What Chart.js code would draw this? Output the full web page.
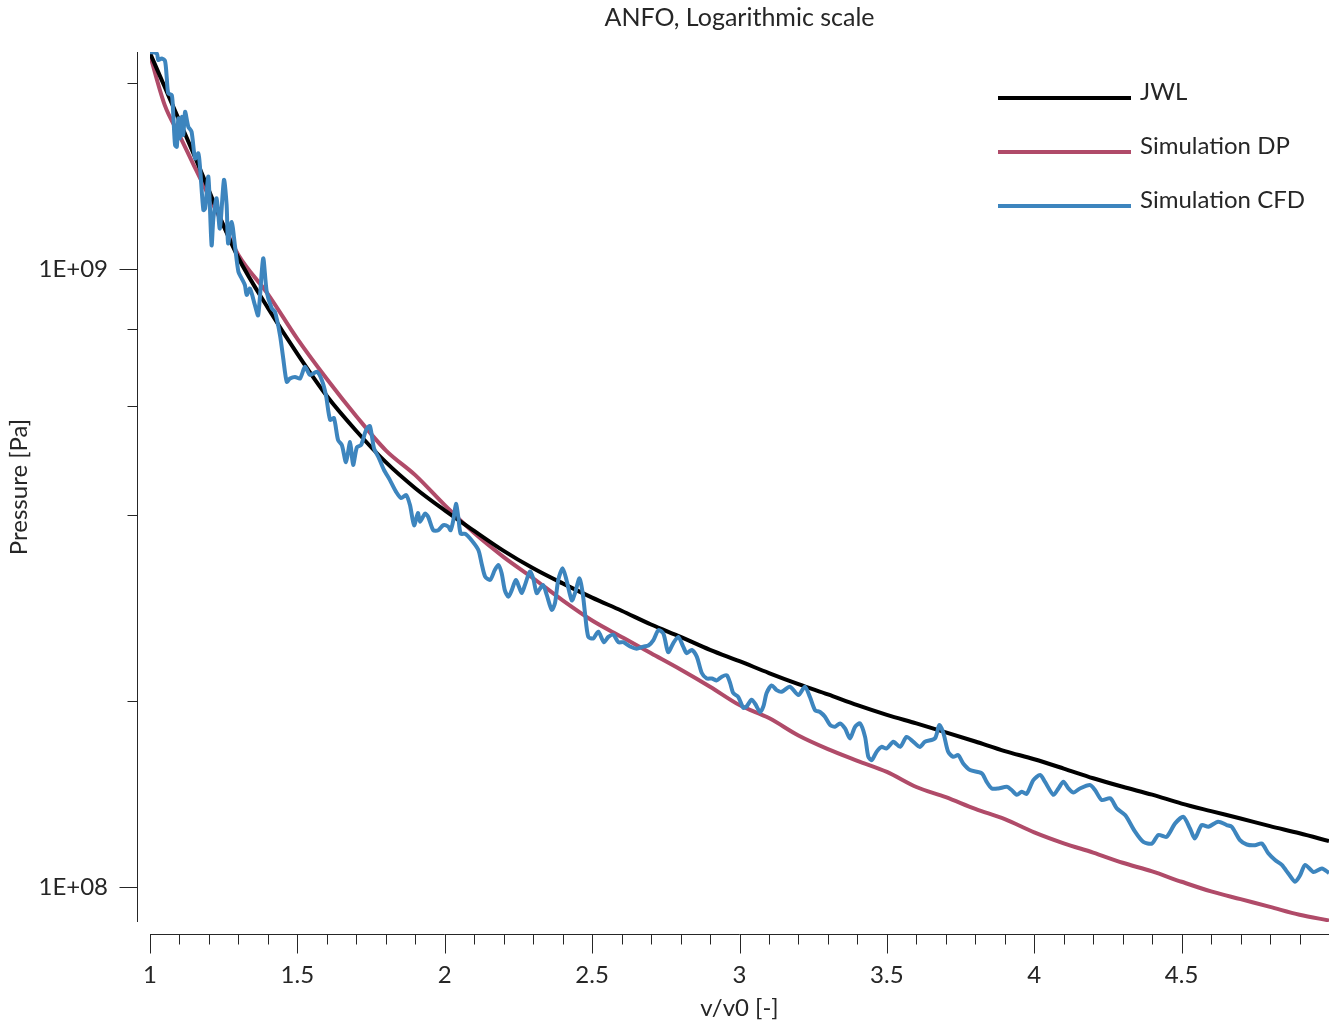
<!DOCTYPE html>
<html>
<head>
<meta charset="utf-8">
<title>ANFO, Logarithmic scale</title>
<script src="https://cdn.jsdelivr.net/npm/chart.js@4.4.1/dist/chart.umd.min.js"></script>
<style>
    html, body { margin: 0; padding: 0; background: #ffffff; }
    #wrap { width: 1339px; height: 1024px; }
</style>
</head>
<body>
<div id="wrap"><canvas id="myChart" width="1339" height="1024"></canvas></div>
<script>
// Relative volume v/v0 for the JWL and DP curves.
const gridV = [1.00, 1.05, 1.10, 1.15, 1.20, 1.25, 1.30, 1.40, 1.50, 1.60, 1.70, 1.80, 1.90, 2.00, 2.10, 2.20, 2.30, 2.40, 2.50,
    2.60, 2.70, 2.80, 2.90, 3.00, 3.10, 3.20, 3.30, 3.40, 3.50, 3.60, 3.70, 3.80, 3.90, 4.00, 4.10, 4.20, 4.30, 4.40, 4.50,
    4.60, 4.70, 4.80, 4.90, 5.00];

// Pressures in MPa.
const jwlMPa = [2236, 1970, 1736, 1529, 1340, 1174, 1042, 865, 729, 623, 547, 487, 442, 407, 377, 350, 328, 310, 294,
    280, 266, 254, 242, 232, 222, 213, 205, 197, 190, 184, 178, 172, 166, 161, 155.5, 150, 145.3, 141.1, 136.5,
    132.7, 129.1, 125.5, 122.2, 118.7];

const dpMPa = [2220, 1842, 1646, 1468, 1311, 1175, 1054, 911, 771, 664, 578, 509, 464, 415, 374, 342, 316, 291, 270,
    254, 239, 225, 211, 197, 187.7, 175.9, 167.2, 160.1, 153.6, 145.2, 139.8, 133.8, 128.8, 122.6, 117.7, 113.7, 109.5,
    106.0, 102.0, 98.4, 95.6, 92.9, 90.2, 88.3];

// CFD simulation, own sampling.
const cfdV = [1.000, 1.023, 1.028, 1.040, 1.051, 1.057, 1.062, 1.074, 1.079, 1.085, 1.091, 1.096, 1.102, 1.108, 1.113,
    1.119, 1.130, 1.141, 1.153, 1.164, 1.170, 1.181, 1.187, 1.198, 1.209, 1.215, 1.226, 1.237, 1.251, 1.260, 1.265,
    1.277, 1.288, 1.300, 1.311, 1.322, 1.328, 1.339, 1.356, 1.367, 1.384, 1.396, 1.413, 1.424, 1.441, 1.452, 1.464,
    1.475, 1.492, 1.509, 1.526, 1.543, 1.566, 1.583, 1.597, 1.611, 1.624, 1.638, 1.651, 1.665, 1.679, 1.689, 1.702,
    1.716, 1.733, 1.746, 1.760, 1.777, 1.794, 1.814, 1.835, 1.852, 1.869, 1.882, 1.896, 1.909, 1.916, 1.933, 1.944,
    1.961, 1.978, 1.995, 2.012, 2.020, 2.029, 2.038, 2.046, 2.054, 2.069, 2.091, 2.114, 2.125, 2.137, 2.154, 2.170,
    2.182, 2.193, 2.204, 2.216, 2.227, 2.241, 2.252, 2.261, 2.272, 2.289, 2.300, 2.312, 2.323, 2.334, 2.346, 2.363,
    2.374, 2.385, 2.400, 2.413, 2.431, 2.442, 2.457, 2.468, 2.476, 2.487, 2.504, 2.521, 2.540, 2.555, 2.572, 2.589,
    2.606, 2.629, 2.651, 2.674, 2.691, 2.708, 2.725, 2.742, 2.758, 2.775, 2.792, 2.809, 2.821, 2.838, 2.855, 2.872,
    2.889, 2.906, 2.923, 2.940, 2.957, 2.968, 2.979, 2.996, 3.013, 3.024, 3.041, 3.053, 3.070, 3.081, 3.092, 3.109,
    3.126, 3.143, 3.171, 3.200, 3.222, 3.239, 3.256, 3.273, 3.290, 3.307, 3.324, 3.341, 3.358, 3.375, 3.392, 3.409,
    3.426, 3.437, 3.449, 3.465, 3.482, 3.499, 3.522, 3.545, 3.567, 3.590, 3.612, 3.629, 3.663, 3.678, 3.692, 3.708,
    3.725, 3.742, 3.759, 3.782, 3.822, 3.838, 3.856, 3.878, 3.907, 3.923, 3.941, 3.958, 3.974, 3.997, 4.020, 4.036,
    4.065, 4.082, 4.099, 4.116, 4.133, 4.155, 4.189, 4.206, 4.229, 4.258, 4.280, 4.309, 4.342, 4.370, 4.399, 4.421,
    4.449, 4.478, 4.506, 4.528, 4.545, 4.568, 4.591, 4.624, 4.653, 4.670, 4.698, 4.721, 4.749, 4.772, 4.794, 4.817,
    4.840, 4.862, 4.885, 4.902, 4.919, 4.947, 4.976, 5.000];

const cfdMPa = [2244, 2233, 2179, 2192, 2171, 2035, 1924, 1912, 1775, 1587, 1577, 1753, 1628, 1763, 1648, 1797, 1699,
    1668, 1510, 1539, 1455, 1246, 1253, 1410, 1093, 1208, 1302, 1163, 1394, 1269, 1100, 1192, 1093, 990, 966, 942,
    908, 930, 874, 842, 1040, 919, 864, 853, 782, 717, 657, 665, 669, 665, 695, 674, 682, 661, 625, 570, 574, 529,
    519, 487, 525, 482, 515, 519, 549, 557, 513, 494, 473, 455.5, 436, 426, 431, 415, 385, 403, 390, 402, 397, 378,
    378, 385, 383, 378, 392, 417, 397, 373, 373, 364, 351, 334, 318, 314, 326, 332, 322, 302, 295, 302, 314, 306, 299,
    308, 324, 316, 299, 304, 308, 297, 281, 288, 314, 328, 314, 291, 299, 316, 299, 277, 254, 252.5, 259, 249, 254,
    256, 249, 249, 245, 243, 245, 246, 251, 260.5, 257, 240, 248, 254, 245, 239, 242, 236, 222, 217.5, 217.5, 216,
    219, 220, 214, 206, 203, 195, 196, 201, 198, 192, 196, 206, 212, 208.3, 207, 211, 204.5, 211, 203, 193.4, 192,
    188.6, 183, 181.7, 184, 180.6, 174, 181.7, 184, 175, 162.5, 160.5, 165.5, 168.6, 167.6, 171.8, 168.6, 175, 171.8,
    168.6, 171.8, 174, 182.9, 177.3, 165.5, 162.5, 163.5, 158.5, 154.7, 152.8, 148.1, 144.4, 144.4, 145.3, 143.6, 141,
    142.7, 141.5, 149, 151.8, 148.1, 141, 144.4, 148.1, 144.4, 142.2, 144.4, 146.25, 143.6, 138.3, 139.2, 134.1,
    130.7, 122.9, 118.3, 117.6, 121.4, 120.6, 126.8, 129.9, 124.5, 119.9, 126, 125.2, 127.6, 126, 125.2, 119.1, 117.2,
    116.9, 117.6, 113.4, 110.6, 108.6, 105.2, 102, 104.5, 108.6, 105.8, 107.2, 105.4];

// Axis ticks and labels.
const xTickValues = [1.0, 1.1, 1.2, 1.3, 1.4, 1.5, 1.6, 1.7, 1.8, 1.9, 2.0, 2.1, 2.2, 2.3, 2.4, 2.5, 2.6, 2.7, 2.8, 2.9,
    3.0, 3.1, 3.2, 3.3, 3.4, 3.5, 3.6, 3.7, 3.8, 3.9, 4.0, 4.1, 4.2, 4.3, 4.4, 4.5, 4.6, 4.7, 4.8, 4.9];
const xMajorTicks = [1, 1.5, 2, 2.5, 3, 3.5, 4, 4.5];
const xTickLabels = ['1', '1.5', '2', '2.5', '3', '3.5', '4', '4.5'];
const yTickValues = [1e8, 2e8, 4e8, 6e8, 8e8, 1e9, 2e9];
const yMajorTicks = [1e8, 1e9];
const yTickLabels = ['1E+08', '1E+09'];

const xRange = [1, 5];
const yRange = [8.78e7, 2.245e9];

const seriesNames = ['JWL', 'Simulation DP', 'Simulation CFD'];
const seriesColors = ['#000000', '#B04B69', '#3D85BE'];

const FONT = 'Lato, "Open Sans", sans-serif';
const TEXT_COLOR = '#262626';

const findIndex = (list, value) => list.findIndex(v => Math.abs(v - value) <= 1e-9 * Math.abs(v));
const toPoints = (xs, ps) => xs.map((v, i) => ({ x: v, y: ps[i] * 1e6 }));

// Axis lines sit a little away from the plot area, with long major and short minor ticks.
const detachedAxes = {
    id: 'detachedAxes',
    afterDraw(chart) {
        const { ctx, chartArea, scales } = chart;
        const ax = Math.round(chartArea.left - 13) + 0.5;
        const ay = Math.round(chartArea.bottom + 12) + 0.5;
        ctx.save();
        ctx.strokeStyle = TEXT_COLOR;
        ctx.lineWidth = 1;
        ctx.beginPath();
        ctx.moveTo(ax, chartArea.top);
        ctx.lineTo(ax, chartArea.bottom);
        scales.y.ticks.forEach(t => {
            const py = Math.round(scales.y.getPixelForValue(t.value)) + 0.5;
            ctx.moveTo(ax - (t.major ? 18 : 10), py);
            ctx.lineTo(ax, py);
        });
        ctx.moveTo(chartArea.left, ay);
        ctx.lineTo(chartArea.right, ay);
        scales.x.ticks.forEach(t => {
            const px = Math.round(scales.x.getPixelForValue(t.value)) + 0.5;
            ctx.moveTo(px, ay);
            ctx.lineTo(px, ay + (t.major ? 19 : 10));
        });
        ctx.stroke();
        ctx.restore();
    }
};

// Legend with long line samples, top right inside the plot.
const lineLegend = {
    id: 'lineLegend',
    afterDraw(chart) {
        const { ctx, chartArea } = chart;
        ctx.save();
        ctx.font = '24px ' + FONT;
        ctx.fillStyle = TEXT_COLOR;
        ctx.textAlign = 'left';
        ctx.textBaseline = 'alphabetic';
        chart.data.datasets.forEach((ds, i) => {
            const y = chartArea.top + 46 + i * 54;
            const x0 = chartArea.right - 331;
            ctx.strokeStyle = ds.borderColor;
            ctx.lineWidth = 4;
            ctx.beginPath();
            ctx.moveTo(x0, y);
            ctx.lineTo(x0 + 133, y);
            ctx.stroke();
            ctx.fillText(ds.label, x0 + 142, y + 2);
        });
        ctx.restore();
    }
};

Chart.defaults.font.family = FONT;
Chart.defaults.color = TEXT_COLOR;

const ctx = document.getElementById('myChart').getContext('2d');
const chart = new Chart(ctx, {
    type: 'line',
    data: {
        datasets: [{
            label: seriesNames[0],
            data: toPoints(gridV, jwlMPa),
            borderColor: seriesColors[0],
            borderWidth: 4,
            cubicInterpolationMode: 'monotone',
            order: 1
        }, {
            label: seriesNames[1],
            data: toPoints(gridV, dpMPa),
            borderColor: seriesColors[1],
            borderWidth: 4,
            cubicInterpolationMode: 'monotone',
            order: 2
        }, {
            label: seriesNames[2],
            data: toPoints(cfdV, cfdMPa),
            borderColor: seriesColors[2],
            borderWidth: 4,
            tension: 0.25,
            order: 0
        }]
    },
    options: {
        responsive: false,
        animation: false,
        devicePixelRatio: 1,
        parsing: false,
        elements: { point: { radius: 0 } },
        layout: { padding: { right: 10 } },
        plugins: {
            legend: { display: false },
            tooltip: { enabled: false },
            title: {
                display: true,
                fullSize: false,
                text: 'ANFO, Logarithmic scale',
                color: TEXT_COLOR,
                font: { size: 25, weight: 'normal', lineHeight: 1.2 },
                padding: { top: 3, bottom: 19 }
            }
        },
        scales: {
            x: {
                type: 'linear',
                min: xRange[0],
                max: xRange[1],
                bounds: 'data',
                grid: { display: false, drawTicks: false },
                border: { display: false },
                afterBuildTicks: (scale) => {
                    scale.ticks = xTickValues.map(v => ({ value: v, major: findIndex(xMajorTicks, v) >= 0 }));
                },
                afterFit: (scale) => {
                    scale.height = 102;
                    scale.paddingLeft = 0;
                    scale.paddingRight = 0;
                },
                ticks: {
                    autoSkip: false,
                    maxRotation: 0,
                    minRotation: 0,
                    padding: 39,
                    color: TEXT_COLOR,
                    font: { size: 24, lineHeight: 1.2 },
                    callback: (value) => {
                        const i = findIndex(xMajorTicks, value);
                        return i >= 0 ? xTickLabels[i] : '';
                    }
                },
                title: {
                    display: true,
                    text: 'v/v0 [-]',
                    color: TEXT_COLOR,
                    font: { size: 24, lineHeight: 1.2 },
                    padding: { top: 0, bottom: 1 }
                }
            },
            y: {
                type: 'logarithmic',
                min: yRange[0],
                max: yRange[1],
                bounds: 'data',
                grid: { display: false, drawTicks: false },
                border: { display: false },
                afterBuildTicks: (scale) => {
                    scale.ticks = yTickValues.map(v => ({ value: v, major: findIndex(yMajorTicks, v) >= 0 }));
                },
                afterFit: (scale) => {
                    scale.width = 150;
                    scale.paddingTop = 0;
                    scale.paddingBottom = 0;
                },
                ticks: {
                    autoSkip: false,
                    padding: 42,
                    color: TEXT_COLOR,
                    font: { size: 24, lineHeight: 1.2 },
                    callback: (value) => {
                        const i = findIndex(yMajorTicks, value);
                        return i >= 0 ? yTickLabels[i] : '';
                    }
                },
                title: {
                    display: true,
                    text: 'Pressure [Pa]',
                    color: TEXT_COLOR,
                    font: { size: 24, lineHeight: 1.2 },
                    padding: { top: 5, bottom: 0 }
                }
            }
        }
    },
    plugins: [detachedAxes, lineLegend]
});
</script>
</body>
</html>
